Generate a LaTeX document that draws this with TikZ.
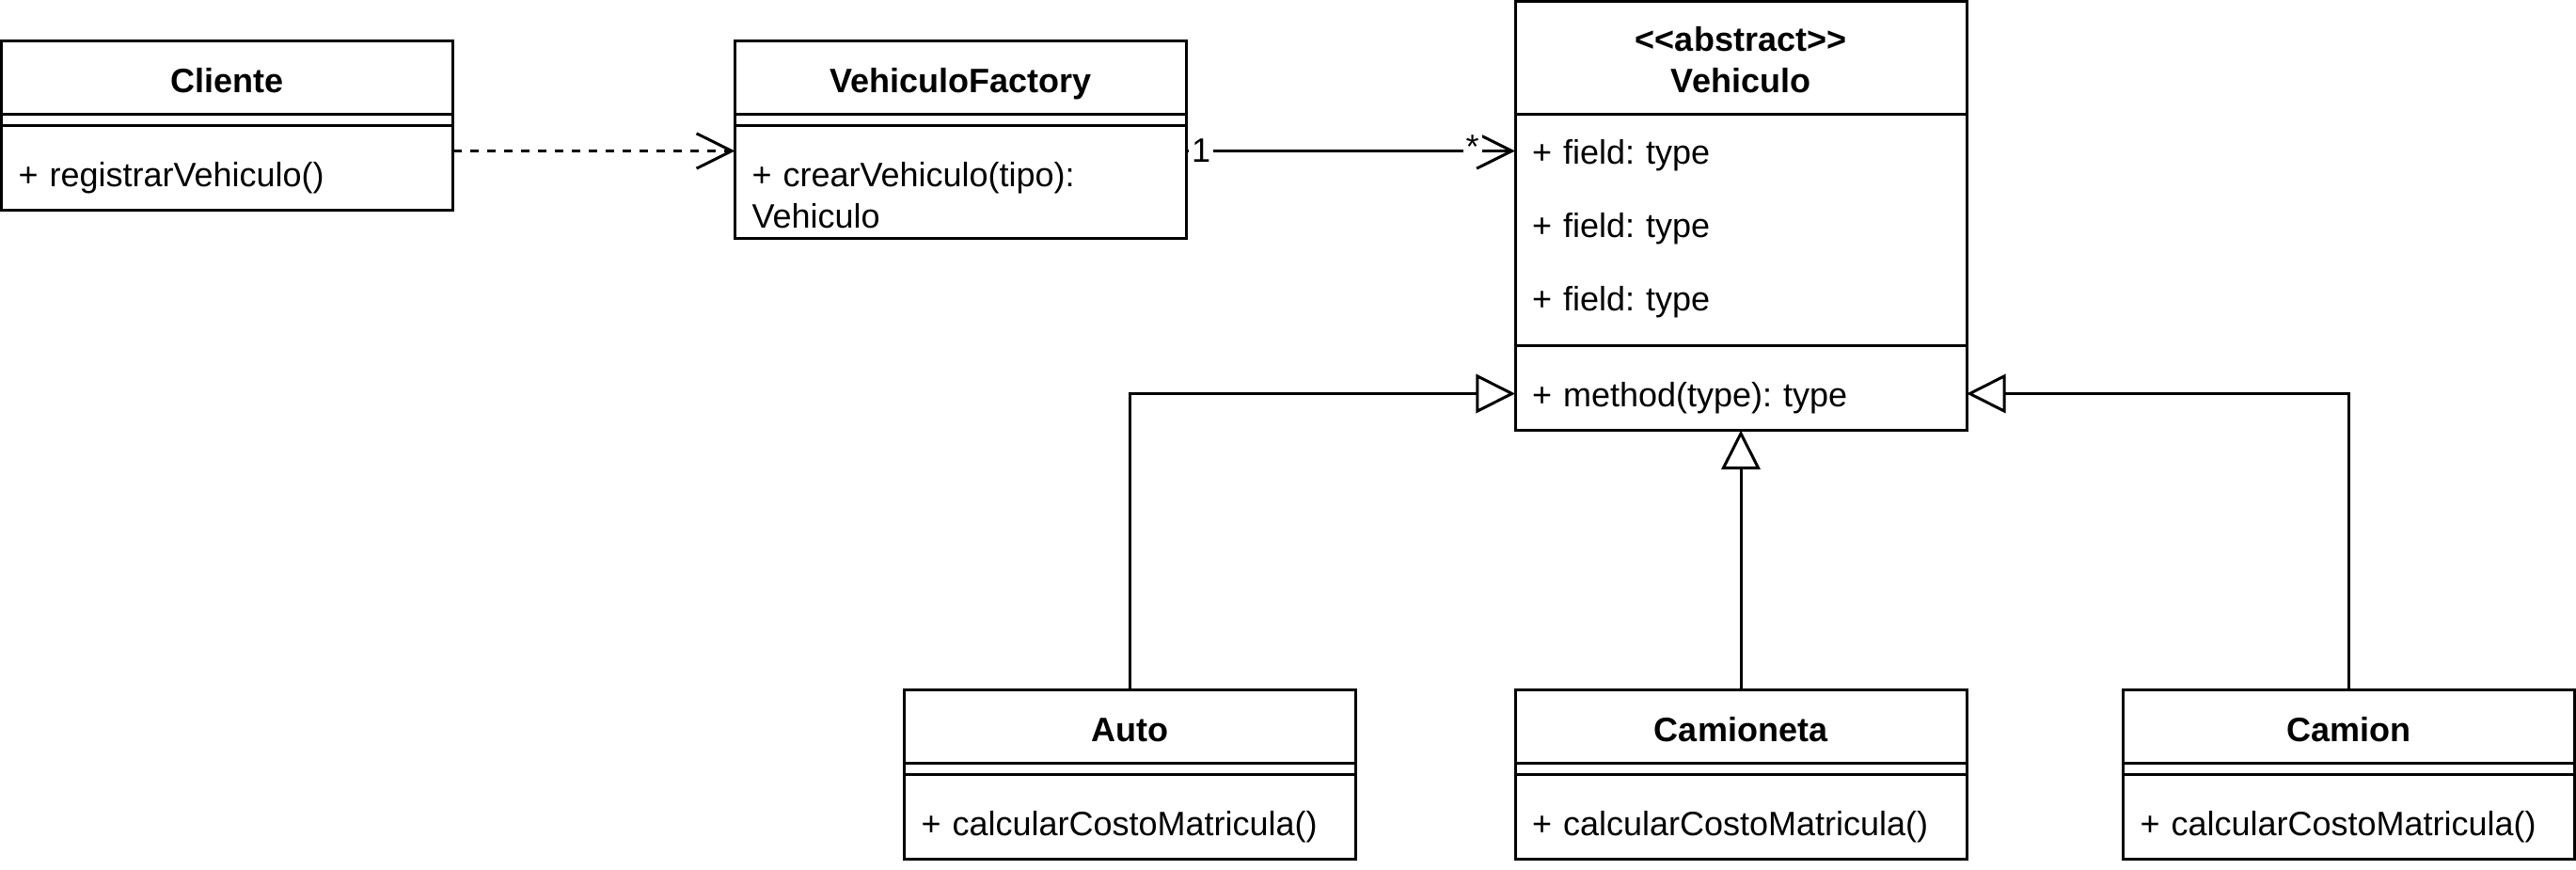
\documentclass[tikz,border=0pt,12pt]{standalone}
\usepackage{fontspec}
\setmainfont{Liberation Sans}[Ligatures=TeXOff]
\usetikzlibrary{arrows.meta,calc,positioning}
\frenchspacing
\tikzset{%
	umlhead/.style = {draw, rectangle, minimum width=160pt, minimum height=26pt, inner sep=0pt, outer sep=0pt, font=\bfseries, text height=10.8pt, text depth=0pt}, % class name
	umlrow/.style  = {rectangle, text width=148pt, inner xsep=6pt, inner ysep=0pt, outer sep=0pt, align=left, text height=17.7pt, text depth=8.3pt}, % member
	depend/.style  = {dash pattern=on 3pt off 3pt, -{Straight Barb[length=12.5pt,width=12.4pt]}},
	assoc/.style   = {-{Straight Barb[length=12.5pt,width=12.4pt]}},
	inherit/.style = {-{Triangle[open,length=13.9pt,width=13.8pt]}},
	mult/.style    = {fill=white, inner sep=1pt}, % multiplicity
}

\begin{document}
\begin{tikzpicture}[x=1pt,y=-1pt,line width=1pt]
	\useasboundingbox[fill=white] (0,0) rectangle (913,308);

	\node [umlhead] (fabrica) at (340.5,27.5) {VehiculoFactory};
	\node [umlhead] (cliente) [left=100pt of fabrica] {Cliente};
	\node [umlhead, minimum height=40pt, text height=32.3pt, text depth=7.7pt, align=center] (vehiculo) at (617,20.5) {<<abstract>>\\Vehiculo};

	\node [umlrow] (cliente-m) [below=8pt of cliente] {+ registrarVehiculo()};
	\node [umlrow, text depth=18.3pt] (fabrica-m) [below=8pt of fabrica] {+ crearVehiculo(tipo):\\Vehiculo};
	\node [umlrow] (vehiculo-f1) [below=0pt of vehiculo] {+ field: type};
	\node [umlrow] (vehiculo-f2) [below=0pt of vehiculo-f1] {+ field: type};
	\node [umlrow] (vehiculo-f3) [below=0pt of vehiculo-f2] {+ field: type};
	\node [umlrow] (vehiculo-m) [below=8pt of vehiculo-f3] {+ method(type): type};

	% subclases
	\node [umlhead] (camioneta) [below=92pt of vehiculo-m] {Camioneta};
	\node [umlhead] (auto) [left=56.5pt of camioneta] {Auto};
	\node [umlhead] (camion) [right=55.5pt of camioneta] {Camion};
	\node [umlrow] (auto-m) [below=8pt of auto] {+ calcularCostoMatricula()};
	\node [umlrow] (camioneta-m) [below=8pt of camioneta] {+ calcularCostoMatricula()};
	\node [umlrow] (camion-m) [below=8pt of camion] {+ calcularCostoMatricula()};

	\foreach \c in {cliente,fabrica,auto,camioneta,camion} {
		\draw (\c.north west) rectangle (\c-m.south east);
		\draw ($(\c.south west)+(0,4)$) -- ++(160,0);
	}
	\draw (vehiculo.north west) rectangle (vehiculo-m.south east);
	\draw ($(vehiculo-f3.south west)+(0,4)$) -- ++(160,0);

	\draw [depend] (cliente.east |- vehiculo-f1) -- (fabrica.west |- vehiculo-f1);
	\draw [assoc] (fabrica.east |- vehiculo-f1) -- node[mult, pos=0.045] {1} node[mult, pos=0.87, yshift=1.6pt] {*} (vehiculo-f1.west);
	\draw [inherit] (auto) |- (vehiculo-m.west);
	\draw [inherit] (camioneta) -- (vehiculo-m);
	\draw [inherit] (camion) |- (vehiculo-m.east);
\end{tikzpicture}
\end{document}
